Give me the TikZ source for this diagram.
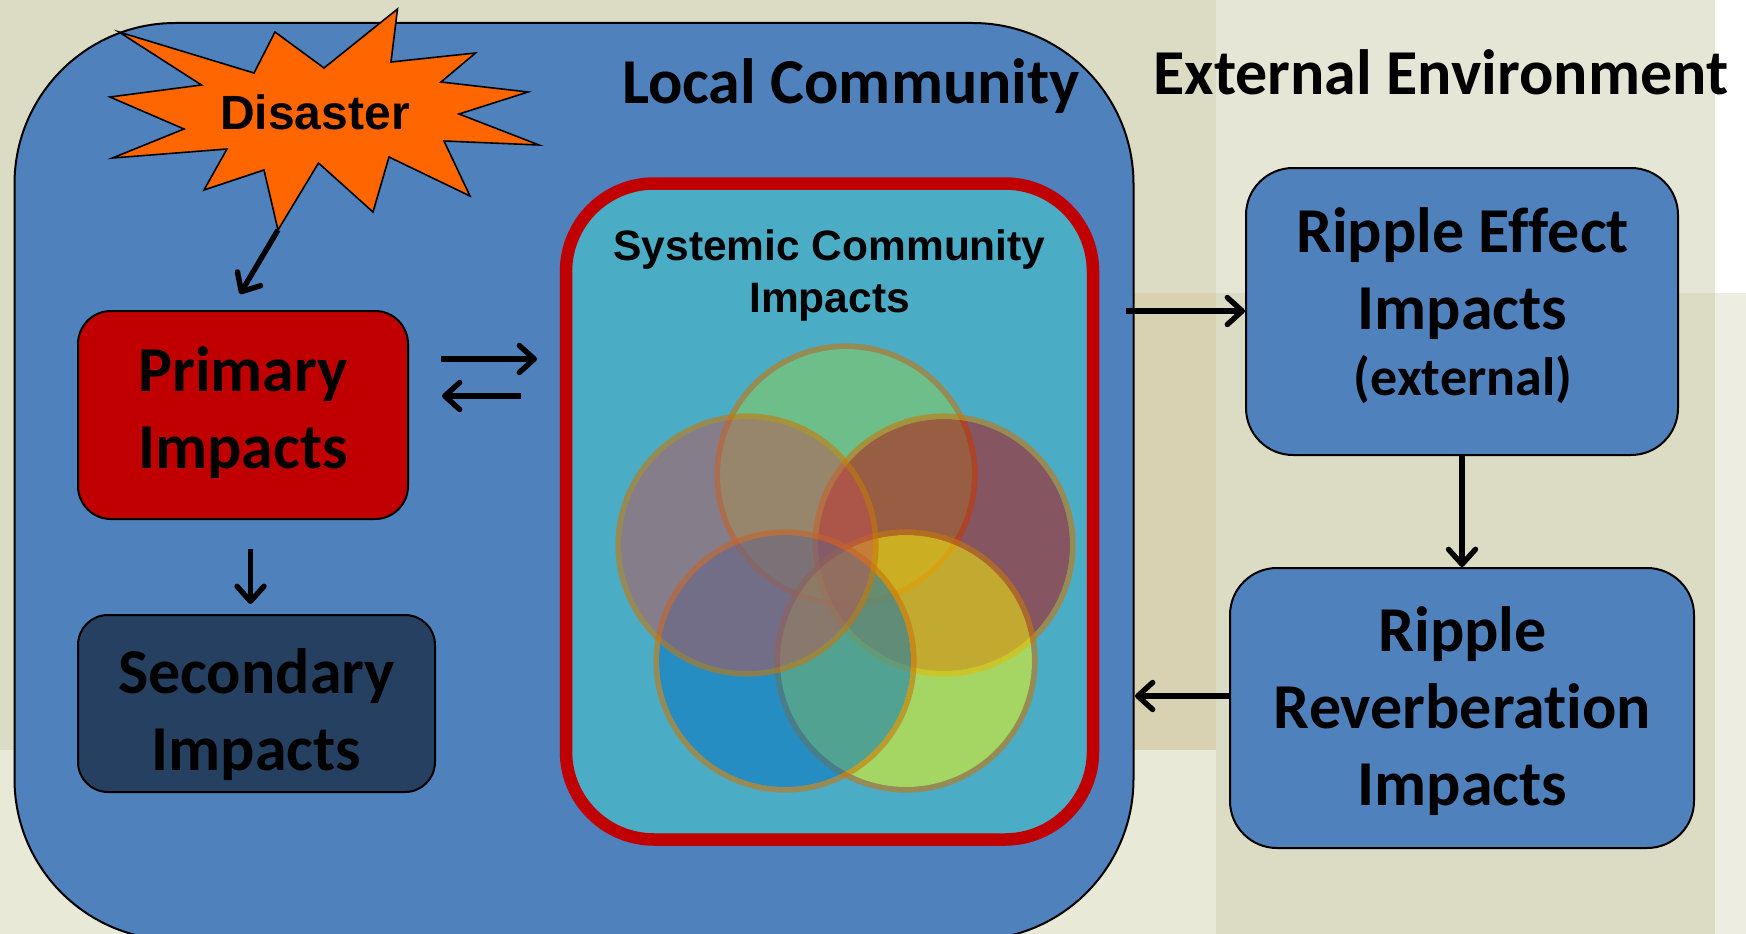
\documentclass[tikz,border=0pt]{standalone}
\usepackage{fontspec}
\setmainfont{Carlito}[Ligatures=NoCommon]
\newfontfamily\arialb{Liberation Sans}[BoldFont={Liberation Sans Bold}]
\usetikzlibrary{arrows.meta}
\definecolor{bgA}{HTML}{DCDBC4}
\definecolor{bgB}{HTML}{D8D2B2}
\definecolor{bgC}{HTML}{E6E6D6}
\definecolor{bgD}{HTML}{EDEDE2}
\definecolor{bgE}{HTML}{E8E9D7}
\definecolor{boxblue}{HTML}{4F81BD}
\definecolor{redbox}{HTML}{C00000}
\definecolor{navybox}{HTML}{254061}
\definecolor{sysfill}{HTML}{4BACC6}
\definecolor{starfill}{HTML}{FF6600}
\definecolor{ringc}{HTML}{C8760A}
\definecolor{vA}{HTML}{92D050}
\definecolor{vB}{HTML}{C00000}
\definecolor{vC}{HTML}{FFFF00}
\definecolor{vD}{HTML}{0070C0}
\definecolor{vE}{HTML}{C0504D}
\newcommand{\vennring}[3]{%
  \fill[#1,fill opacity=.5] (#2,#3) circle [radius=126];
  \draw[ringc,draw opacity=.6,line width=5.6pt] (#2,#3) circle [radius=128.8];
}
\tikzset{
  x=1pt,y=-1pt,
  boxstyle/.style={draw=black,line width=2pt,fill=boxblue,inner sep=0pt},
  boxtext/.style={font=\fontsize{64}{77}\selectfont\bfseries,align=center,inner sep=0pt},
  panel/.style={fill=#1,draw=none},
  conn/.style={line width=5.4pt,-{Straight Barb[length=15pt,width=27pt,line cap=round,line join=round]}},
  bigtext/.style={font=\fontsize{#1}{#1}\selectfont\bfseries,inner sep=0pt},
}
\begin{document}
\begin{tikzpicture}
\useasboundingbox (0,0) rectangle (1746,934);
\begin{scope}
\clip (0,0) rectangle (1746,934);
% background panels
\fill[panel=bgA] (0,0) rectangle (1216,750);
\fill[panel=bgB] (600,293) rectangle (1216,750);
\fill[panel=bgE] (0,750) rectangle (1216,934);
\fill[panel=bgC] (1216,0) rectangle (1715,293);
\fill[panel=bgA] (1216,293) rectangle (1715,934);
\fill[panel=white] (1715,0) rectangle (1746,293);
\fill[panel=bgD] (1715,293) rectangle (1746,934);
% local community
\node[boxstyle,rounded corners=161pt,minimum width=1119pt,minimum height=917pt] (local) at (574,481.5) {};
\end{scope}
\node[bigtext=64] (localt) at (851,86) {Local Community};
\node[bigtext=64] (extt) at (1441,72) {External Environment};
% star
\draw[black,line width=1.6pt,fill=starfill,line join=miter] (119,32) -- (254,73) -- (275,32) -- (324,68) -- (397.5,9) -- (391,62) -- (475.5,53) -- (441,82) -- (528,92) -- (459,114) -- (539,145) -- (444,141) -- (470,196) -- (389,157) -- (373,212) -- (318.5,163) -- (278,230) -- (264,170) -- (204,190) -- (227,149) -- (112.5,158) -- (184,129) -- (110,97) -- (201.5,85) -- cycle;
\coordinate (startip) at (278,230);
\node[font=\arialb\fontsize{48}{48}\selectfont\bfseries,inner sep=0pt] (disaster) at (315,112) {Disaster};
% boxes
\node[boxstyle,fill=redbox,rounded corners=33pt,minimum width=330pt,minimum height=208pt] (primary) at (243,415) {};
\node[boxtext] (primaryt) at (243,412.5) {Primary\\Impacts};
\node[boxstyle,fill=navybox,rounded corners=30pt,minimum width=357pt,minimum height=177pt] (secondary) at (256.5,703.5) {};
\node[boxtext] (secondaryt) at (256.5,714.5) {Secondary\\Impacts};
\node[boxstyle,draw=redbox,line width=12.5pt,fill=sysfill,rounded corners=88pt,minimum width=527pt,minimum height=656pt] (system) at (829.5,511.5) {};
\node[font=\arialb\fontsize{42.5}{52}\selectfont\bfseries,align=center,inner sep=0pt] (systemt) at (829.5,276) {Systemic Community\\Impacts};
\node[boxstyle,rounded corners=47pt,minimum width=432pt,minimum height=287pt] (effect) at (1462,311.5) {};
\node[boxtext] (effectt) at (1462.5,273.5) {Ripple Effect\\Impacts};
\node[font=\fontsize{54}{54}\selectfont\bfseries,inner sep=0pt] (effectx) at (1463,380) {(external)};
\node[boxstyle,rounded corners=47pt,minimum width=464pt,minimum height=280pt] (reverb) at (1462,708) {};
\node[boxtext] (reverbt) at (1462.5,711.5) {Ripple\\Reverberation\\Impacts};
% venn
\vennring{vA}{846}{475}
\vennring{vB}{944}{545}
\vennring{vC}{906}{661}
\vennring{vD}{785}{661}
\vennring{vE}{747}{545}
% connectors
\coordinate (a1) at (240,294);
\coordinate (b0) at (441,359);\coordinate (b1) at (537,359);
\coordinate (c0) at (521,396);\coordinate (c1) at (442,396);
\coordinate (d0) at (250.5,549);\coordinate (d1) at (250.5,604);
\coordinate (e0) at (1126,311);\coordinate (e1) at (effect.west |- e0);
\coordinate (f1) at (1135,696);\coordinate (f0) at (reverb.west |- f1);
\draw[conn] (startip) -- (a1);
\draw[conn] (b0) -- (b1);
\draw[conn] (c0) -- (c1);
\draw[conn] (d0) -- (d1);
\draw[conn] (e0) -- (e1);
\draw[conn] (effect.south) -- (reverb.north);
\draw[conn] (f0) -- (f1);
\end{tikzpicture}
\end{document}
